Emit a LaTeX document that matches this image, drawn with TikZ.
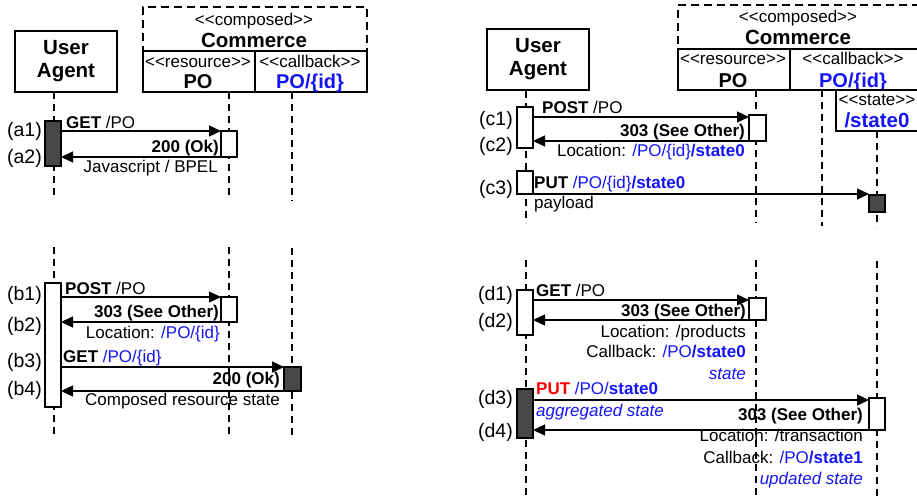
\documentclass[tikz,border=0pt]{standalone}
\usepackage{fontspec}
\setmainfont{Liberation Sans}[Ligatures=TeXOff]
\usetikzlibrary{arrows.meta,calc}
\definecolor{blu}{RGB}{20,20,250}
\definecolor{rd}{RGB}{250,0,0}
\definecolor{dk}{RGB}{72,72,72}
\begin{document}
\begin{tikzpicture}[x=1pt,y=-1pt,
  box/.style={draw, line width=1.4pt, fill=white, inner sep=0pt, outer sep=0pt},
  dbox/.style={draw, line width=1.4pt, dash pattern=on 8pt off 5pt, inner sep=0pt, outer sep=0pt},
  act/.style={draw, line width=1.3pt, fill=white, minimum width=16pt, inner sep=0pt, outer sep=0pt},
  actdk/.style={act, fill=dk},
  ll/.style={line width=1.3pt, dash pattern=on 7pt off 5pt},
  msg/.style={line width=1.3pt, -{Triangle[length=12pt,width=11pt]}},
  lb/.style={inner sep=0pt, font=\fontsize{17}{20}\selectfont, text height=12.2pt, text depth=0pt},
  hd/.style={inner sep=0pt, font=\bfseries\fontsize{20.5}{23}\selectfont, text height=14.7pt, text depth=0pt},
  num/.style={inner sep=0pt, anchor=east, font=\fontsize{19.5}{22}\selectfont, text height=14pt, text depth=0pt},
  uab/.style={box, minimum width=102pt, minimum height=61pt, align=center, font=\bfseries\fontsize{20.5}{23}\selectfont}
]
\useasboundingbox (0,0) rectangle (917,495);

% ---------- lifelines ----------
\draw[ll] (54,92) -- (54,198);   \draw[ll] (54,247) -- (54,435);
\draw[ll] (229,92) -- (229,198); \draw[ll] (229,247) -- (229,435);
\draw[ll] (292,92) -- (292,201); \draw[ll] (292,248) -- (292,435);
\draw[ll] (526,91) -- (526,223); \draw[ll] (526,260) -- (526,497);
\draw[ll] (756,90) -- (756,223); \draw[ll] (756,260) -- (756,497);
\draw[ll] (822,90) -- (822,226);
\draw[ll] (877,131) -- (877,227); \draw[ll] (877,261) -- (877,497);

% ---------- left headers ----------
\node[dbox, minimum width=224pt, minimum height=85pt] (cmp1) at (255,49.5) {};
\node[lb] (cmp1s) at (254,19) {<<composed>>};
\node[hd] (cmp1n) at (254,40) {Commerce};
\node[box, minimum width=112pt, minimum height=41pt] (res1) at (199,71.5) {};
\node[box, minimum width=112pt, minimum height=41pt] (cb1) at (311,71.5) {};
\node[lb] (res1s) at (198,61) {<<resource>>};
\node[hd, font=\bfseries\fontsize{20}{23}\selectfont] (res1n) at (198,81) {PO};
\node[lb] (cb1s) at (310,61) {<<callback>>};
\node[hd, text=blu, font=\bfseries\fontsize{20}{23}\selectfont] (cb1n) at (310,81) {PO/\{id\}};
\node[uab] (ua1) at (66,61.5) {User\\Agent};

% ---------- right headers ----------
\node[dbox, minimum width=241pt, minimum height=85pt] (cmp2) at (798.5,47.5) {};
\node[lb] (cmp2s) at (798,16) {<<composed>>};
\node[hd] (cmp2n) at (798,37) {Commerce};
\node[box, minimum width=112pt, minimum height=41pt] (res2) at (734,69.5) {};
\node[box, minimum width=129pt, minimum height=41pt] (cb2) at (854.5,69.5) {};
\node[lb] (res2s) at (733,58) {<<resource>>};
\node[hd, font=\bfseries\fontsize{20}{23}\selectfont] (res2n) at (733,80) {PO};
\node[lb] (cb2s) at (853,58) {<<callback>>};
\node[hd, text=blu, font=\bfseries\fontsize{20}{23}\selectfont] (cb2n) at (853,80) {PO/\{id\}};
\node[box, minimum width=83pt, minimum height=41pt] (st2) at (877.5,110.5) {};
\node[lb] (st2s) at (877,99) {<<state>>};
\node[hd, text=blu] (st2n) at (877,120) {/state0};
\node[uab] (ua2) at (538,59.5) {User\\Agent};

% ---------- activation boxes ----------
\node[actdk, minimum height=45pt] (a1ua) at (53,143.5) {};
\node[act, minimum height=26pt] (a1po) at (229,144) {};
\node[act, minimum height=124pt] (b1ua) at (53,345) {};
\node[act, minimum height=25pt] (b1po) at (229,309.5) {};
\node[actdk, minimum height=24pt, minimum width=17pt] (b3cb) at (292.5,379) {};
\node[act, minimum height=41pt] (c1ua) at (525,127.5) {};
\node[act, minimum height=26pt, minimum width=17pt] (c1po) at (757.5,128) {};
\node[act, minimum height=23pt] (c3ua) at (525,182.5) {};
\node[actdk, minimum height=17pt] (c3st) at (877,203.5) {};
\node[act, minimum height=45pt] (d1ua) at (525,312.5) {};
\node[act, minimum height=22pt, minimum width=17pt] (d1po) at (757.5,309) {};
\node[actdk, minimum height=49pt] (d3ua) at (525,413.5) {};
\node[act, minimum height=32pt] (d3st) at (877,414) {};

% ---------- messages ----------
\draw[msg] (a1ua.east |- a1po.north) -- (a1po.north west);
\draw[msg] (a1po.south west) -- (a1ua.east |- a1po.south);
\draw[msg] (b1ua.east |- b1po.north) -- (b1po.north west);
\draw[msg] (b1po.south west) -- (b1ua.east |- b1po.south);
\draw[msg] (b1ua.east |- b3cb.north) -- (b3cb.north west);
\draw[msg] (b3cb.south west) -- (b1ua.east |- b3cb.south);
\draw[msg] ([yshift=-2pt]c1ua.east |- c1po.north) -- ([yshift=-2pt]c1po.north west);
\draw[msg] (c1po.south west) -- (c1ua.east |- c1po.south);
\draw[msg] (c3ua.south east) -- (c3st.west |- c3ua.south);
\draw[msg] ([yshift=-2pt]d1ua.east |- d1po.north) -- ([yshift=-2pt]d1po.north west);
\draw[msg] (d1po.south west) -- (d1ua.east |- d1po.south);
\draw[msg] ([yshift=-2pt]d3ua.east |- d3st.north) -- ([yshift=-2pt]d3st.north west);
\draw[msg] (d3st.south west) -- (d3ua.east |- d3st.south);

% ---------- step numbers ----------
\node[num] (na1) at (42,129) {(a1)};
\node[num] (na2) at (42,156) {(a2)};
\node[num] (nb1) at (42,293) {(b1)};
\node[num] (nb2) at (42,324) {(b2)};
\node[num] (nb3) at (42,360) {(b3)};
\node[num] (nb4) at (42,388) {(b4)};
\node[num] (nc1) at (513,118) {(c1)};
\node[num] (nc2) at (513,144) {(c2)};
\node[num] (nc3) at (513,187) {(c3)};
\node[num] (nd1) at (513,293) {(d1)};
\node[num] (nd2) at (513,320) {(d2)};
\node[num] (nd3) at (513,397) {(d3)};
\node[num] (nd4) at (513,430) {(d4)};

% ---------- labels: a ----------
\node[lb, anchor=west] (la1) at (66,122) {\textbf{GET} /PO};
\node[lb, anchor=east] (la2) at (219,146) {\textbf{200 (Ok)}};
\node[lb, anchor=east] (la3) at (218,166) {Javascript / BPEL};
% ---------- labels: b ----------
\node[lb, anchor=west] (lb1) at (65,288) {\textbf{POST} /PO};
\node[lb, anchor=east] (lb2) at (219,311) {\textbf{303 (See Other)}};
\node[lb, anchor=east] (lb3) at (220,332) {Location: \textcolor{blu}{/PO/\{id\}}};
\node[lb, anchor=west] (lb4) at (63,356) {\textbf{GET} \textcolor{blu}{/PO/\{id\}}};
\node[lb, anchor=east] (lb5) at (280,378) {\textbf{200 (Ok)}};
\node[lb, anchor=east] (lb6) at (280,399) {Composed resource state};
% ---------- labels: c ----------
\node[lb, anchor=west] (lc1) at (542,107) {\textbf{POST} /PO};
\node[lb, anchor=east] (lc2) at (745,130) {\textbf{303 (See Other)}};
\node[lb, anchor=east] (lc3) at (745,150) {Location: \textcolor{blu}{/PO/\{id\}\textbf{/state0}}};
\node[lb, anchor=west] (lc4) at (534,182) {\textbf{PUT} \textcolor{blu}{/PO/\{id\}\textbf{/state0}}};
\node[lb, anchor=west] (lc5) at (534,202) {payload};
% ---------- labels: d ----------
\node[lb, anchor=west] (ld1) at (536,290) {\textbf{GET} /PO};
\node[lb, anchor=east] (ld2) at (746,310) {\textbf{303 (See Other)}};
\node[lb, anchor=east] (ld3) at (746,331) {Location: /products};
\node[lb, anchor=east] (ld4) at (746,351) {Callback: \textcolor{blu}{/PO\textbf{/state0}}};
\node[lb, anchor=east, text=blu] (ld5) at (746,373) {\itshape state};
\node[lb, anchor=west] (ld6) at (536,388) {\textcolor{rd}{\textbf{PUT}} \textcolor{blu}{/PO/\textbf{state0}}};
\node[lb, anchor=west, text=blu] (ld7) at (536,410) {\itshape aggregated state};
\node[lb, anchor=east] (ld8) at (863,414) {\textbf{303 (See Other)}};
\node[lb, anchor=east] (ld9) at (863,435) {Location: /transaction};
\node[lb, anchor=east] (ld10) at (863,457) {Callback: \textcolor{blu}{/PO\textbf{/state1}}};
\node[lb, anchor=east, text=blu] (ld11) at (863,478) {\itshape updated state};
\end{tikzpicture}
\end{document}
